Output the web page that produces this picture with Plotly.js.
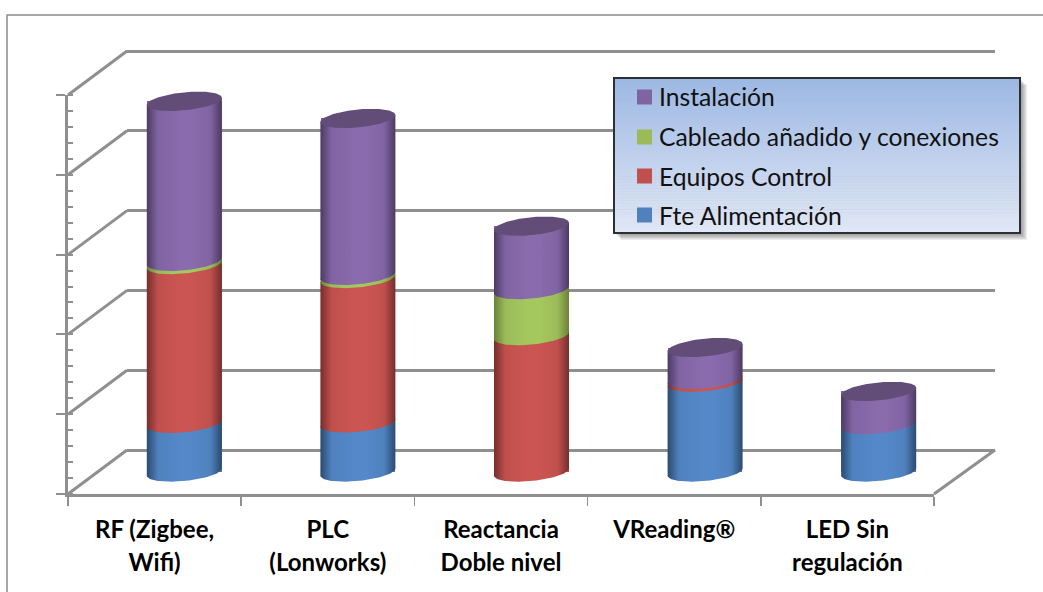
<!DOCTYPE html>
<html>
<head>
<meta charset="utf-8">
<script src="https://cdn.plot.ly/plotly-3.0.1.min.js"></script>
<style>html,body{margin:0;padding:0;background:#fff;overflow:hidden}</style>
</head>
<body>
<div id="chart" style="width:1043px;height:592px"></div>
<script>
// ---------- data ----------
const categories = ["RF (Zigbee,", "PLC", "Reactancia", "VReading®", "LED Sin"];
const categoriesLine2 = ["Wifi)", "(Lonworks)", "Doble nivel", "", "regulación"];
const seriesNames = ["Fte Alimentación", "Equipos Control", "Cableado añadido y conexiones", "Instalación"];
const fteAlimentacion = [12.2, 12.3, 0, 22.5, 11.9];
const equiposControl = [39.8, 36.2, 34.2, 0.7, 0];
const cableado = [0.8, 0.8, 11.5, 0, 0];
const instalacion = [40.1, 39.3, 15.9, 8.0, 8.3];
const seriesValues = [fteAlimentacion, equiposControl, cableado, instalacion];

// ---------- style ----------
const baseColors = ["#4f81bd", "#c0504d", "#9bbb59", "#8064a2"];
const lightColors = ["#5488c9", "#cb5552", "#a5c85e", "#8a6bad"];
const darkColors = ["#2b4a70", "#752e2d", "#6a8239", "#4c3a63"];
const capColor = "#624c78";
const grey = "#8f8f8f";
const W = 1043, H = 592;
const FONT = "Lato, Carlito, sans-serif";

// planes of the fake 3D box, pixel positions
const front = {x0: 68, x1: 934, y0: 494, y1: 95};
const depthX = 59, depthY = 44;
const unit = (front.y0 - front.y1) / 100;
const xd = p => [p[0] / W, p[1] / W];
const yd = p => [1 - p[0] / H, 1 - p[1] / H];
const shadePad = 16;
const wallPad = 4;

const layout = {
  width: W, height: H, autosize: false,
  margin: {l: 0, r: 0, t: 0, b: 0},
  paper_bgcolor: "#fff", plot_bgcolor: "rgba(0,0,0,0)",
  showlegend: false, barmode: "stack", hovermode: false,
  // back wall: gridlines
  xaxis: {domain: xd([front.x0 + depthX, front.x1 + depthX + 2]), range: [0, 1], showgrid: false, zeroline: false, showline: false, showticklabels: false, ticks: "", anchor: "y", fixedrange: true},
  yaxis: {domain: yd([front.y0 - depthY + wallPad, front.y1 - depthY - wallPad]), range: [-wallPad / unit, 100 + wallPad / unit], anchor: "x", tick0: 0, dtick: 20, showgrid: true,
          gridcolor: grey, gridwidth: 3, showticklabels: false, zeroline: true, zerolinecolor: grey, zerolinewidth: 3, showline: false, ticks: "", fixedrange: true},
  // middle plane: the columns
  xaxis2: {domain: xd([front.x0 + depthX / 2, front.x1 + depthX / 2 + 2]), range: [-0.5, 4.5], visible: false, anchor: "y2", fixedrange: true},
  yaxis2: {domain: yd([front.y0 - depthY / 2 + shadePad, front.y1 - depthY / 2]), range: [-shadePad / unit, 100], visible: false, anchor: "x2", fixedrange: true},
  // front plane: the axes
  xaxis3: {domain: xd([front.x0, front.x1]), type: "category", categoryorder: "array",
           range: [-0.5, 4.5], anchor: "y3", tickson: "boundaries", ticks: "outside", ticklen: 9, tickwidth: 1.5, tickcolor: grey,
           showline: true, linecolor: grey, linewidth: 2.5, showgrid: false, zeroline: false, fixedrange: true, ticklabelstandoff: 11,
           tickangle: 0, tickfont: {family: FONT, size: 25.5, color: "#000", weight: 700}},
  yaxis3: {domain: yd([front.y0, front.y1]), range: [0, 100], anchor: "x3", dtick: 20, ticks: "outside", ticklen: 9, tickwidth: 2, tickcolor: grey,
           minor: {dtick: 4, ticks: "inside", ticklen: 5, tickwidth: 2, tickcolor: grey, showgrid: false},
           showticklabels: false, showline: true, linecolor: grey, linewidth: 3, showgrid: false, zeroline: false, fixedrange: true},
  shapes: [], annotations: []
};

const tickLabels = categories.map((c, i) =>
  '<span style="font-size:24px">' + c + (categoriesLine2[i] ? "<br>" + categoriesLine2[i] : "") + "</span>");
layout.xaxis3.categoryarray = tickLabels;

// ---------- traces ----------
const traces = [];
// invisible trace that switches on the back wall subplot
traces.push({type: "scatter", mode: "markers", x: [0.5], y: [50], xaxis: "x", yaxis: "y", marker: {opacity: 0, size: 1}, hoverinfo: "skip"});
// column bars through the axes
seriesValues.forEach((vals, s) => {
  traces.push({type: "bar", name: seriesNames[s], x: categories.map((_, i) => i), y: vals, width: 0.43,
    xaxis: "x2", yaxis: "y2", marker: {color: baseColors[s], line: {width: 0}}, hoverinfo: "skip"});
});
// invisible trace that registers the categories on the front axis
traces.push({type: "scatter", mode: "markers", x: tickLabels, y: tickLabels.map(() => 0), xaxis: "x3", yaxis: "y3",
  marker: {opacity: 0, size: 1}, hoverinfo: "skip"});

// round shading of the columns, built from the same values
const halfW = 0.216, b = 2.25, k = 0.9, N = 48;
function segment(c, v0, v1, s) {
  const xs = [], ys = [];
  for (let j = 0; j <= N; j++) { const t = Math.PI * (1 - j / N); xs.push(c + halfW * Math.cos(t)); ys.push(v1 + k * Math.cos(t)); }
  for (let j = 0; j <= N; j++) { const t = -Math.PI * j / N; xs.push(c + halfW * Math.cos(t)); ys.push(v0 + k * Math.cos(t) + b * Math.sin(t)); }
  xs.push(xs[0]); ys.push(ys[0]);
  const d = darkColors[s], l = lightColors[s];
  return {type: "scatter", mode: "lines", x: xs, y: ys, xaxis: "x2", yaxis: "y2", line: {width: 0}, fill: "toself", hoverinfo: "skip",
    fillgradient: {type: "horizontal", start: c - halfW, stop: c + halfW, colorscale: [[0, d], [0.15, baseColors[s]], [0.45, l], [0.6, l], [0.85, baseColors[s]], [1, d]]}};
}
categories.forEach((_, i) => {
  let cum = 0;
  seriesValues.forEach((vals, s) => {
    if (vals[i] > 0) traces.push(segment(i, cum, cum + vals[i], s));
    cum += vals[i];
  });
  const xs = [], ys = [];
  for (let j = 0; j <= 2 * N; j++) { const t = Math.PI * j / N; xs.push(i + halfW * Math.cos(t)); ys.push(cum + k * Math.cos(t) + b * Math.sin(t)); }
  traces.push({type: "scatter", mode: "lines", x: xs, y: ys, xaxis: "x2", yaxis: "y2", line: {width: 0}, fill: "toself", fillcolor: capColor, hoverinfo: "skip"});
});

// ---------- box: side wall lines ----------
const px = p => p / W, py = p => 1 - p / H;
const shapes = layout.shapes;
function line(x0, y0, x1, y1, color, width, lay) {
  shapes.push({type: "line", xref: "paper", yref: "paper", x0: px(x0), y0: py(y0), x1: px(x1), y1: py(y1), line: {color, width}, layer: lay || "below"});
}
for (let v = 0; v <= 100; v += 20) {
  const y = front.y0 - v * unit;
  line(front.x0, y, front.x0 + depthX, y - depthY, grey, 3);
}
line(front.x1, front.y0, front.x1 + depthX + 2, front.y0 - depthY, grey, 3);
// outer frame of the chart
shapes.push({type: "rect", xref: "paper", yref: "paper", x0: px(7), y0: py(15), x1: px(W + 20), y1: py(H + 20), line: {color: "#8c8c8c", width: 1.5}, layer: "below"});

// ---------- legend box ----------
const box = {x0: 614, x1: 1020, y0: 78, y1: 233};
function rect(x0, y0, x1, y1, fill, border, bw) {
  shapes.push({type: "rect", xref: "paper", yref: "paper", x0: px(x0), y0: py(y0), x1: px(x1), y1: py(y1), fillcolor: fill,
    line: border ? {color: border, width: bw} : {width: 0}, layer: "above"});
}
for (let s = 7; s >= 1; s--) rect(box.x0 + s, box.y0 + s, box.x1 + s, box.y1 + s, "rgba(60,60,60,0.09)");
const steps = 52, hStep = (box.y1 - box.y0) / steps;
const mix = (a, b, t) => Math.round(a + (b - a) * t);
for (let i = 0; i < steps; i++) {
  const t = i / (steps - 1);
  const col = `rgb(${mix(157, 224, t)},${mix(184, 231, t)},${mix(227, 245, t)})`;
  rect(box.x0, box.y0 + i * hStep, box.x1, box.y0 + (i + 1) * hStep + 0.5, col);
}
shapes.push({type: "rect", xref: "paper", yref: "paper", x0: px(box.x0), y0: py(box.y0), x1: px(box.x1), y1: py(box.y1), line: {color: "#2b2f36", width: 2}, layer: "above"});

const legendOrder = [3, 2, 1, 0];
const legendY = [97, 137, 176, 215];
legendOrder.forEach((s, i) => {
  rect(637, legendY[i] - 7.5, 652, legendY[i] + 7.5, baseColors[s]);
  layout.annotations.push({xref: "paper", yref: "paper", x: px(656.5), y: py(legendY[i]), xanchor: "left", yanchor: "middle", showarrow: false,
    text: seriesNames[s], font: {family: FONT, size: 24.7, color: "#111"}});
});

Plotly.newPlot("chart", traces, layout, {displayModeBar: false, staticPlot: true});
</script>
</body>
</html>
